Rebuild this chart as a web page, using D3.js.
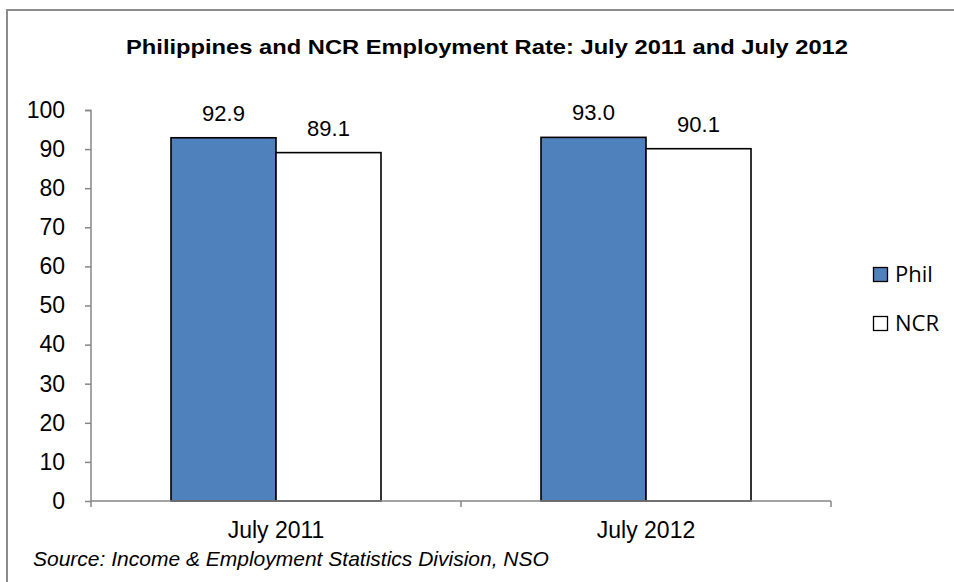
<!DOCTYPE html>
<html><head><meta charset="utf-8">
<script src="https://cdn.jsdelivr.net/npm/d3@7"></script>
<style>body{margin:0;background:#fff}svg{display:block}</style>
</head><body>
<svg id="c" width="954" height="582"></svg>
<script>
const categories = ["July 2011", "July 2012"];
const seriesNames = ["Phil", "NCR"];
const philValues = [92.9, 93.0];
const ncrValues = [89.1, 90.1];
const yTicks = [0,10,20,30,40,50,60,70,80,90,100];
const colors = {Phil: "#4f81bd", NCR: "#ffffff"};

const svg = d3.select("#c");
// outer frame
svg.append("rect").attr("x",7).attr("y",10).attr("width",960).attr("height",600)
  .attr("fill","none").attr("stroke","#8c8c8c").attr("stroke-width",2);

svg.append("text").attr("x",487).attr("y",54).attr("text-anchor","middle")
  .attr("font-family","Liberation Sans, Arial, sans-serif").attr("font-weight","bold")
  .attr("font-size",21).attr("textLength",722).attr("lengthAdjust","spacingAndGlyphs")
  .text("Philippines and NCR Employment Rate: July 2011 and July 2012");

const x = d3.scaleBand().domain(categories).range([91,831]).paddingInner(0).paddingOuter(0);
const y = d3.scaleLinear().domain([0,100]).range([501,110]);
const xs = d3.scaleBand().domain(seriesNames).range([0,210]);
const groupOff = (x.bandwidth()-210)/2;

const data = categories.map((c,i)=>({cat:c, vals:[{s:"Phil",v:philValues[i]},{s:"NCR",v:ncrValues[i]}]}));

// y axis
const yAxis = svg.append("g").attr("transform","translate(91,0)")
  .call(d3.axisLeft(y).tickValues(yTicks).tickSize(6).tickPadding(20));
yAxis.selectAll("path,line").attr("stroke","#868686").attr("stroke-width",1.5);
yAxis.select(".domain").attr("d","M-6,110.5H0V501");
yAxis.selectAll("text").attr("font-family","Liberation Sans, Arial, sans-serif").attr("font-size",23).attr("fill","#000");

// bars
const g = svg.append("g");
data.forEach(d=>{
  d.vals.forEach(s=>{
    const bx = x(d.cat)+groupOff+xs(s.s);
    g.append("rect").attr("x",bx).attr("y",y(s.v)).attr("width",xs.bandwidth()).attr("height",y(0)-y(s.v))
      .attr("fill",colors[s.s]).attr("stroke","#000").attr("stroke-width",1.6);
    g.append("text").attr("x",bx+xs.bandwidth()/2).attr("y",y(s.v)-17).attr("text-anchor","middle")
      .attr("font-family","Liberation Sans, Arial, sans-serif").attr("font-size",22).text(s.v.toFixed(1));
  });
});

// x axis
const xAxis = svg.append("g").attr("transform","translate(0,501)")
  .call(d3.axisBottom(x).tickSize(0).tickPadding(21));
xAxis.select(".domain").attr("stroke","#868686").attr("stroke-width",1.5).attr("d","M91,0H831");
xAxis.selectAll("text").attr("font-family","Liberation Sans, Arial, sans-serif").attr("font-size",23).attr("fill","#000");
const bounds = [x.range()[0], ...categories.map(c=>x(c)+x.bandwidth())];
svg.append("g").selectAll("line").data(bounds).join("line")
  .attr("x1",d=>d).attr("x2",d=>d).attr("y1",501).attr("y2",507).attr("stroke","#868686").attr("stroke-width",1.5);

// legend
const lg = svg.append("g");
seriesNames.forEach((s,i)=>{
  lg.append("rect").attr("x",873.5).attr("y",267.5+i*49).attr("width",14).attr("height",14)
    .attr("fill",colors[s]).attr("stroke","#000").attr("stroke-width",1.3);
  lg.append("text").attr("x",895).attr("y",282+i*49).attr("font-family","Open Sans, Lato, sans-serif")
    .attr("font-size",22).text(s);
});

svg.append("text").attr("x",33).attr("y",566).attr("font-family","Liberation Sans, Arial, sans-serif")
  .attr("font-style","italic").attr("font-size",21).text("Source: Income & Employment Statistics Division, NSO");
</script>
</body></html>
